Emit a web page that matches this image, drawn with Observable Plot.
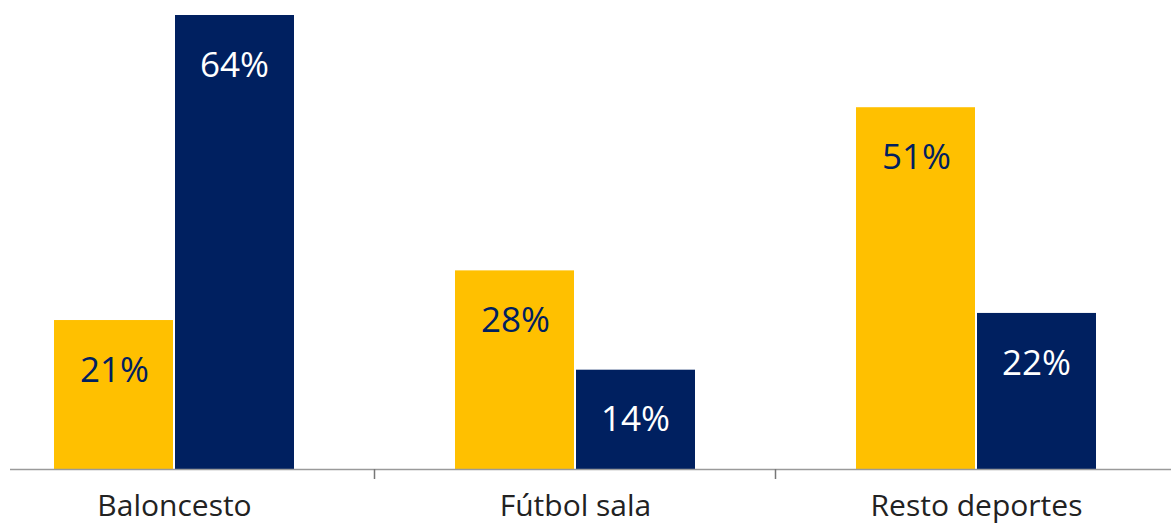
<!DOCTYPE html>
<html><head><meta charset="utf-8">
<script src="https://cdn.jsdelivr.net/npm/d3@7"></script>
<script src="https://cdn.jsdelivr.net/npm/@observablehq/plot@0.6"></script>
<style>body{margin:0;background:#fff;}</style>
</head><body><div id="chart"></div>
<script>
const categories = ["Baloncesto", "Fútbol sala", "Resto deportes"];
const seriesYellow = [21, 28, 51];
const seriesNavy = [64, 14, 22];

const data = categories.map((c, i) => ({cat: c, a: seriesYellow[i], b: seriesNavy[i]}));
const YELLOW = "#FFC000", NAVY = "#002060";

const chart = Plot.plot({
  width: 1171, height: 525,
  marginLeft: 10, marginRight: 0, marginTop: 15, marginBottom: 56,
  x: {domain: categories, paddingInner: 0.402, paddingOuter: 0.1468, align: 0.373, axis: null},
  y: {domain: [0, 64], axis: null},
  style: {fontFamily: "'Open Sans', sans-serif", background: "#fff", overflow: "visible"},
  marks: [
    Plot.barY(data, {x: "cat", y: "a", fill: YELLOW, insetRight: 121}),
    Plot.barY(data, {x: "cat", y: "b", fill: NAVY, insetLeft: 121}),
    Plot.ruleY([0], {stroke: "#9a9a9a", strokeWidth: 1.5}),
    Plot.ruleX(categories.slice(1), {x: d => d, y1: d => 0, y2: d => 0, dx: -201, insetBottom: -10, stroke: "#777", strokeWidth: 1.5}),
    Plot.text(data, {x: "cat", y: "a", text: d => d.a + "%", dx: -60, dy: 50, fill: NAVY, fontSize: 35}),
    Plot.text(data, {x: "cat", y: "b", text: d => d.b + "%", dx: 60, dy: 50, fill: "#fff", fontSize: 35}),
    Plot.text(data, {x: "cat", y: d => 0, text: "cat", dy: 37, fill: "#222", fontSize: 30})
  ]
});
document.getElementById("chart").appendChild(chart);
</script>
</body></html>
